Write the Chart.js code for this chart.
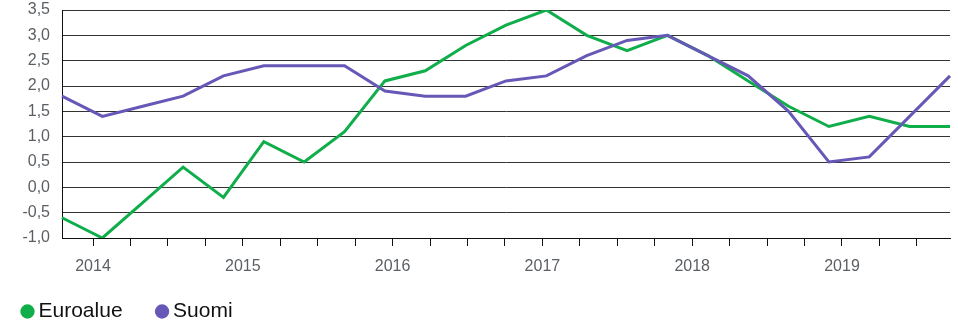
<!DOCTYPE html>
<html>
<head>
<meta charset="utf-8">
<script src="https://cdn.jsdelivr.net/npm/chart.js@4/dist/chart.umd.min.js"></script>
<style>
  html, body { margin: 0; padding: 0; background: #fff; }
  #wrap { width: 958px; height: 323px; }
</style>
</head>
<body>
<div id="wrap"><canvas id="inflaatio"></canvas></div>
<script>
// havaintopisteet (23 kpl, aikajärjestyksessä)
const periods = ['2013/10','2014/01','2014/04','2014/08','2014/11','2015/02','2015/05','2015/08',
  '2015/11','2016/03','2016/06','2016/09','2016/12','2017/03','2017/07','2017/10',
  '2018/01','2018/04','2018/07','2018/11','2019/02','2019/05','2019/08'];
const euroalue = [-0.6, -1.0, -0.3, 0.4, -0.2, 0.9, 0.5, 1.1, 2.1, 2.3, 2.8, 3.2,
  3.5, 3.0, 2.7, 3.0, 2.6, 2.1, 1.6, 1.2, 1.4, 1.2, 1.2];
const suomi = [1.8, 1.4, 1.6, 1.8, 2.2, 2.4, 2.4, 2.4, 1.9, 1.8, 1.8, 2.1,
  2.2, 2.6, 2.9, 3.0, 2.6, 2.2, 1.5, 0.5, 0.6, 1.4, 2.2];
const years = ['2014', '2015', '2016', '2017', '2018', '2019'];
const yTicks = [-1.0, -0.5, 0.0, 0.5, 1.0, 1.5, 2.0, 2.5, 3.0, 3.5];

const GREEN = '#10ae4b';
const PURPLE = '#6658b6';
const TEXT = '#5b5f63';
const LINE = '#333333';
const FONT = 'Liberation Sans, Arial, sans-serif';

// aika-akselin rajat vuosina
const xMin = 2013.793, xMax = 2019.721;
const quarterTicks = years
  .flatMap(y => [0, 0.25, 0.5, 0.75].map(q => ({ value: Number(y) + q })))
  .filter(t => t.value <= xMax);

const isYear = v => Math.abs(v - Math.round(v)) < 1e-6;
const fmt = v => v.toFixed(1).replace('.', ',');

new Chart(document.getElementById('inflaatio'), {
  type: 'line',
  data: {
    labels: periods,
    datasets: [
      { label: 'Euroalue', data: euroalue, borderColor: GREEN, backgroundColor: GREEN,
        borderWidth: 3, pointRadius: 0, tension: 0, order: 1 },
      { label: 'Suomi', data: suomi, borderColor: PURPLE, backgroundColor: PURPLE,
        borderWidth: 3, pointRadius: 0, tension: 0, order: 0 }
    ]
  },
  options: {
    responsive: true,
    maintainAspectRatio: false,
    animation: false,
    layout: { padding: { left: -12, right: 8, top: 0, bottom: -9 } },
    plugins: {
      tooltip: { enabled: false },
      legend: {
        position: 'bottom',
        align: 'start',
        labels: {
          usePointStyle: true,
          pointStyle: 'circle',
          boxWidth: 1,
          boxHeight: 8,
          padding: 39,
          color: '#111',
          font: { family: FONT, size: 21 },
          sort: (a, b) => a.datasetIndex - b.datasetIndex
        }
      }
    },
    scales: {
      x: { type: 'category', display: false, offset: false },
      x2: {
        type: 'linear',
        position: 'bottom',
        min: xMin,
        max: xMax,
        afterBuildTicks: s => { s.ticks = quarterTicks.map(t => ({ value: t.value })); },
        afterFit: s => {
          s.height = 24;
          // vuosiluvut saavat ulottua akselilaatikon alle
          s._computeLabelArea = () => undefined;
        },
        border: { display: true, color: '#111', width: 1 },
        grid: { drawOnChartArea: false, drawTicks: true, tickLength: 8, color: '#111' },
        ticks: {
          autoSkip: false,
          maxRotation: 0,
          padding: 11,
          color: TEXT,
          font: { family: FONT, size: 16 },
          callback: v => isYear(v) ? String(Math.round(v)) : ''
        }
      },
      y: {
        min: -1,
        max: 3.5,
        afterBuildTicks: s => { s.ticks = yTicks.map(v => ({ value: v })); },
        afterFit: s => { s.width = 74; s.paddingTop = 10; },
        border: { display: true, color: '#111', width: 1 },
        grid: { color: LINE, lineWidth: 1, drawTicks: false },
        ticks: {
          padding: 12,
          color: TEXT,
          font: { family: FONT, size: 16 },
          callback: v => fmt(v)
        }
      }
    }
  }
});
</script>
</body>
</html>
